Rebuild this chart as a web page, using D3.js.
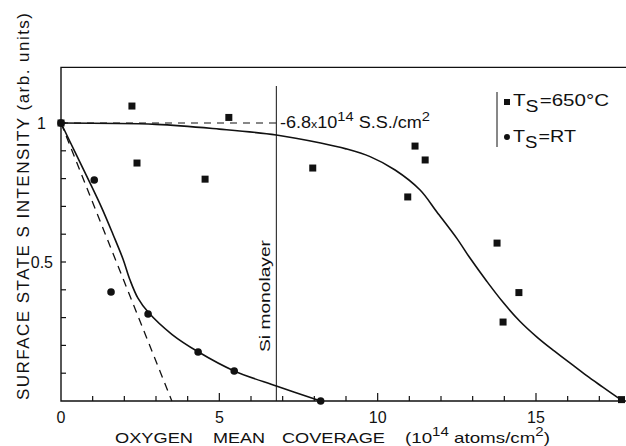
<!DOCTYPE html>
<html>
<head>
<meta charset="utf-8">
<script src="https://cdn.jsdelivr.net/npm/d3@7"></script>
<style>
  body { margin: 0; background: #fff; }
  svg { display: block; font-family: "Liberation Sans", Arial, sans-serif; }
</style>
</head>
<body>
<svg id="chart" width="626" height="446"></svg>
<script>
// squares, Ts = 650 C
var hotX = [0, 2.24, 2.4, 4.55, 5.3, 7.95, 10.95, 11.18, 11.5, 13.77, 13.96, 14.46, 17.7];
var hotY = [1, 1.061, 0.856, 0.798, 1.02, 0.838, 0.734, 0.917, 0.867, 0.568, 0.284, 0.39, 0.005];
// circles, Ts = RT
var rtX = [0, 1.05, 1.58, 2.75, 4.33, 5.47, 8.2];
var rtY = [1, 0.795, 0.392, 0.313, 0.176, 0.108, 0.0];

// fitted curves
var hotFitX = [0, 3, 5, 6.8, 8.2, 9.0, 9.76, 10.55, 11.34, 11.87, 12.5, 12.91, 13.45, 13.96, 14.49, 15.03, 15.54, 16.07, 16.6, 17.11, 17.7];
var hotFitY = [1, 0.995, 0.978, 0.957, 0.928, 0.907, 0.879, 0.831, 0.759, 0.68, 0.585, 0.515, 0.43, 0.355, 0.287, 0.23, 0.183, 0.137, 0.091, 0.05, 0.003];
var rtFitX = [0, 0.44, 0.85, 1.29, 1.64, 1.96, 2.18, 2.43, 2.75, 3.5, 4.33, 5.47, 6.8, 8.2];
var rtFitY = [1, 0.896, 0.8, 0.694, 0.6, 0.51, 0.435, 0.37, 0.32, 0.24, 0.177, 0.108, 0.054, 0.0];
// initial slope (dashed) and monolayer saturation level
var slopeX = [0, 3.5];
var slopeY = [1, 0];
var monolayer = 6.8;

var xMajor = [0, 5, 10, 15];
var xMinor = [1, 2, 3, 4, 6, 7, 8, 9, 11, 12, 13, 14, 16, 17];
var yMajor = [0.5, 1];
var yMinor = [0.1, 0.2, 0.3, 0.4, 0.6, 0.7, 0.8, 0.9];

var ink = "#111";
var svg = d3.select("#chart");

var x = d3.scaleLinear().domain([0, 15]).range([61, 536]);
var y = d3.scaleLinear().domain([0, 1]).range([401, 123]);

// frame: left, bottom, top (right side is cut off)
svg.append("path")
    .attr("d", "M626," + y(1.2) + "H" + x(0) + "V" + y(0) + "H626")
    .attr("fill", "none").attr("stroke", ink).attr("stroke-width", 1.4);

// x ticks, pointing inward
var xg = svg.append("g");
xg.selectAll("line.minor").data(xMinor).enter().append("line")
    .attr("x1", d => x(d)).attr("x2", d => x(d))
    .attr("y1", y(0)).attr("y2", y(0) - 5)
    .attr("stroke", ink).attr("stroke-width", 1.2);
xg.selectAll("line.major").data(xMajor.slice(1)).enter().append("line")
    .attr("x1", d => x(d)).attr("x2", d => x(d))
    .attr("y1", y(0)).attr("y2", y(0) - 8)
    .attr("stroke", ink).attr("stroke-width", 1.2);
xg.selectAll("text").data(xMajor).enter().append("text")
    .attr("x", d => x(d)).attr("y", 423)
    .attr("text-anchor", "middle").attr("font-size", 16).attr("fill", ink)
    .text(d => d);

// y ticks
var yg = svg.append("g");
yg.selectAll("line").data(yMinor.concat(yMajor)).enter().append("line")
    .attr("x1", x(0)).attr("x2", x(0) + 5)
    .attr("y1", d => y(d)).attr("y2", d => y(d))
    .attr("stroke", ink).attr("stroke-width", 1.2);
yg.selectAll("text").data(yMajor).enter().append("text")
    .attr("x", d => d === 1 ? 46 : 53).attr("y", d => y(d) + 6)
    .attr("text-anchor", "end").attr("font-size", 16).attr("fill", ink)
    .text(d => d);

// Si monolayer line
svg.append("line")
    .attr("x1", x(monolayer)).attr("x2", x(monolayer))
    .attr("y1", 86).attr("y2", y(0))
    .attr("stroke", ink).attr("stroke-width", 1);
svg.append("text")
    .attr("transform", "translate(270," + 296 + ") rotate(-90)")
    .attr("text-anchor", "middle").attr("font-size", 15).attr("fill", ink)
    .attr("textLength", 112).attr("lengthAdjust", "spacingAndGlyphs")
    .text("Si  monolayer");

// dashed lines
svg.append("line")
    .attr("x1", x(0)).attr("x2", x(monolayer))
    .attr("y1", y(1)).attr("y2", y(1))
    .attr("stroke", ink).attr("stroke-width", 1.2).attr("stroke-dasharray", "7,6");
svg.append("path")
    .datum(d3.zip(slopeX, slopeY))
    .attr("d", d3.line().x(d => x(d[0])).y(d => y(d[1])))
    .attr("fill", "none").attr("stroke", ink).attr("stroke-width", 1.3)
    .attr("stroke-dasharray", "8,6");

// fitted curves
var curve = d3.line().x(d => x(d[0])).y(d => y(d[1])).curve(d3.curveCatmullRom.alpha(0.5));
svg.append("path").datum(d3.zip(hotFitX, hotFitY)).attr("d", curve)
    .attr("fill", "none").attr("stroke", ink).attr("stroke-width", 1.6);
svg.append("path").datum(d3.zip(rtFitX, rtFitY)).attr("d", curve)
    .attr("fill", "none").attr("stroke", ink).attr("stroke-width", 1.6);

// markers
svg.selectAll("rect.hot").data(d3.zip(hotX, hotY)).enter().append("rect")
    .attr("x", d => x(d[0]) - 3.5).attr("y", d => y(d[1]) - 3.5)
    .attr("width", 7).attr("height", 7).attr("fill", ink);
svg.selectAll("circle.rt").data(d3.zip(rtX, rtY)).enter().append("circle")
    .attr("cx", d => x(d[0])).attr("cy", d => y(d[1])).attr("r", 3.8).attr("fill", ink);

// annotation
var ann = svg.append("text").attr("x", 280).attr("y", 128)
    .attr("font-size", 16).attr("fill", ink)
    .attr("textLength", 150).attr("lengthAdjust", "spacingAndGlyphs");
ann.append("tspan").text("-6.8");
ann.append("tspan").attr("font-size", 11).text("x");
ann.append("tspan").text("10");
ann.append("tspan").attr("dy", -7).attr("font-size", 13).text("14");
ann.append("tspan").attr("dy", 7).text(" S.S./cm");
ann.append("tspan").attr("dy", -7).attr("font-size", 13).text("2");

// legend
svg.append("line").attr("x1", 497).attr("x2", 497).attr("y1", 92).attr("y2", 147)
    .attr("stroke", ink).attr("stroke-width", 1);
svg.append("rect").attr("x", 504).attr("y", 99).attr("width", 6).attr("height", 6).attr("fill", ink);
svg.append("circle").attr("cx", 507).attr("cy", 137).attr("r", 3).attr("fill", ink);
var leg = [["650°C", 106, 96], ["RT", 142, 63]];
leg.forEach(function (l) {
    var t = svg.append("text").attr("x", 513).attr("y", l[1])
        .attr("font-size", 17).attr("fill", ink)
        .attr("textLength", l[2]).attr("lengthAdjust", "spacingAndGlyphs");
    t.append("tspan").text("T");
    t.append("tspan").attr("dy", 6).attr("font-size", 16).text("S");
    t.append("tspan").attr("dy", -6).attr("dx", 1).text("=" + l[0]);
});

// axis titles
var xWords = [["OXYGEN", 115, 78], ["MEAN", 213, 52], ["COVERAGE", 282, 103]];
xWords.forEach(function (w) {
    svg.append("text").attr("x", w[1]).attr("y", 443)
        .attr("font-size", 15).attr("fill", ink)
        .attr("textLength", w[2]).attr("lengthAdjust", "spacingAndGlyphs")
        .text(w[0]);
});
var xt = svg.append("text").attr("x", 405).attr("y", 443)
    .attr("font-size", 15).attr("fill", ink)
    .attr("textLength", 145).attr("lengthAdjust", "spacingAndGlyphs");
xt.append("tspan").text("(10");
xt.append("tspan").attr("dy", -7).attr("font-size", 12).text("14");
xt.append("tspan").attr("dy", 7).text(" atoms/cm");
xt.append("tspan").attr("dy", -7).attr("font-size", 12).text("2");
xt.append("tspan").attr("dy", 7).text(")");

svg.append("text")
    .attr("transform", "translate(29,400) rotate(-90)")
    .attr("font-size", 17).attr("fill", ink)
    .attr("textLength", 387).attr("lengthAdjust", "spacing")
    .text("SURFACE  STATE  S  INTENSITY  (arb. units)");
</script>
</body>
</html>
